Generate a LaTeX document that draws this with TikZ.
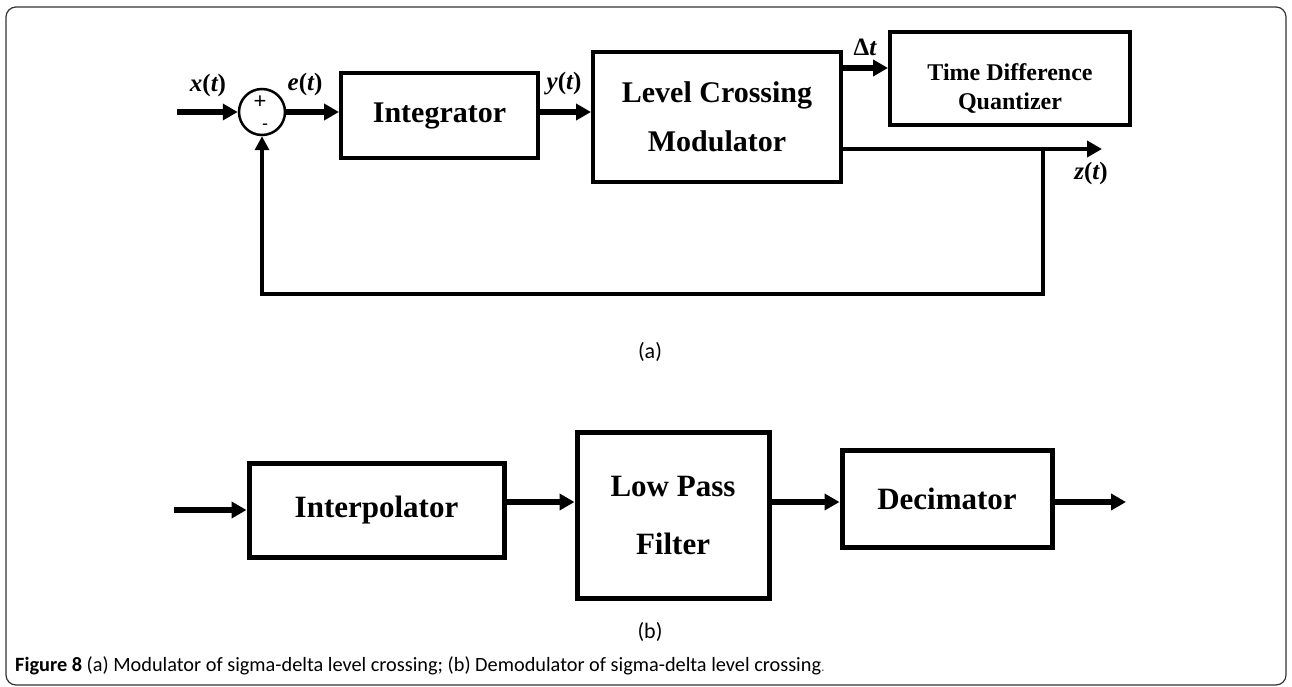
\documentclass[tikz,border=0pt]{standalone}
\usepackage{fontspec}
\setmainfont{Liberation Serif}
\newfontfamily\capfont{Carlito}
\newfontfamily\plusfont{Liberation Sans}
\usetikzlibrary{arrows.meta}
\newcommand\siglab[1]{\bfseries\itshape #1\upshape(\itshape t\upshape)}
\begin{document}
\begin{tikzpicture}[x=1pt,y=-1pt,
  blk/.style={draw, line width=4pt, inner sep=0pt, align=center, font=\bfseries\fontsize{30}{49}\selectfont},
  bblk/.style={blk, line width=5pt, font=\bfseries\fontsize{31}{49}\selectfont},
  sig/.style={line width=6pt, -{Triangle[length=15pt,width=16pt]}},
  zsig/.style={line width=4.5pt, -{Triangle[length=15pt,width=16pt]}},
  fbarrow/.style={line width=4pt, -{Triangle[length=14pt,width=14pt]}},
  lab/.style={font=\fontsize{25}{25}\selectfont, inner sep=0pt},
  captext/.style={font=\capfont\fontsize{20.3}{20.3}\selectfont, inner sep=0pt}]
\useasboundingbox (0,0) rectangle (1292,687);
\draw[line width=1.2pt, black!80, rounded corners=10pt] (6,7) rectangle (1286,685);

% ---------- (a) ----------
\coordinate (xin) at (177,112);
\node[draw, circle, line width=2.5pt, minimum size=46pt, inner sep=0pt] (sum) at (262,112) {};
\node[font=\plusfont\fontsize{22}{22}\selectfont, inner sep=0pt] (plus) at (260,102) {+};
\node[font=\plusfont\fontsize{18}{18}\selectfont, inner sep=0pt] (minus) at (265,127) {-};
\node[blk, minimum width=197pt, minimum height=85pt] (int) at (439.5,115.5) {Integrator};
\node[blk, minimum width=248pt, minimum height=130pt] (lcm) at (717,117) {Level Crossing\\Modulator};
\node[blk, minimum width=240pt, minimum height=93pt] (tdq) at (1010,78.5) {};
\node[align=center, inner sep=0pt, font=\bfseries\fontsize{24}{29}\selectfont] (tdqtext) at (1010,88) {Time Difference\\Quantizer};

\node[lab] (xl) at (208,85) {\siglab{x}};
\node[lab] (el) at (305,84) {\siglab{e}};
\node[lab] (yl) at (564,84) {\siglab{y}};
\node[lab] (dl) at (865,47) {\bfseries Δ\itshape t};
\node[lab] (zl) at (1091,173) {\siglab{z}};

\draw[sig] (xin) -- (sum.west);
\draw[sig] (sum.east) -- (int.west |- sum.east);
\draw[sig] (int.east |- sum.east) -- (lcm.west |- sum.east);
\coordinate (dt) at (841,68);
\draw[sig] (lcm.east |- dt) -- (tdq.west |- dt);

\coordinate (zend) at (1102,149);
\coordinate (zb) at (1043,149);
\coordinate (fbc) at (1043,294);
\draw[zsig] (lcm.east |- zend) -- (zend);
\draw[fbarrow] ([yshift=-2pt]zb) -- (fbc) -| (sum.south);

\node[captext, font=\capfont\fontsize{22}{22}\selectfont] (la) at (650,352) {(a)};

% ---------- (b) ----------
\coordinate (bin) at (174,510);
\node[bblk, minimum width=255pt, minimum height=94pt] (ip) at (376.5,510) {Interpolator};
\node[bblk, minimum width=192pt, minimum height=166pt, font=\bfseries\fontsize{31}{58}\selectfont] (lpf) at (673,515) {Low Pass\\Filter};
\node[bblk, minimum width=210pt, minimum height=97pt] (dec) at (947,498.5) {Decimator};
\coordinate (bout) at (1126,502);

\draw[sig] (bin) -- (ip.west |- bin);
\coordinate (a1) at (504,502);
\draw[sig] (ip.east |- a1) -- (lpf.west |- a1);
\coordinate (a2) at (769,502);
\draw[sig] (lpf.east |- a2) -- (dec.west |- a2);
\draw[sig] (dec.east |- bout) -- (bout);

\node[captext, font=\capfont\fontsize{22}{22}\selectfont] (lb) at (650,632) {(b)};

\node[captext, anchor=west] (caption) at (15,666) {\textbf{Figure 8} (a) Modulator of sigma-delta level crossing; (b) Demodulator of sigma-delta level crossing\textcolor{black!60}{\fontsize{14}{14}\selectfont.}};
\end{tikzpicture}
\end{document}
